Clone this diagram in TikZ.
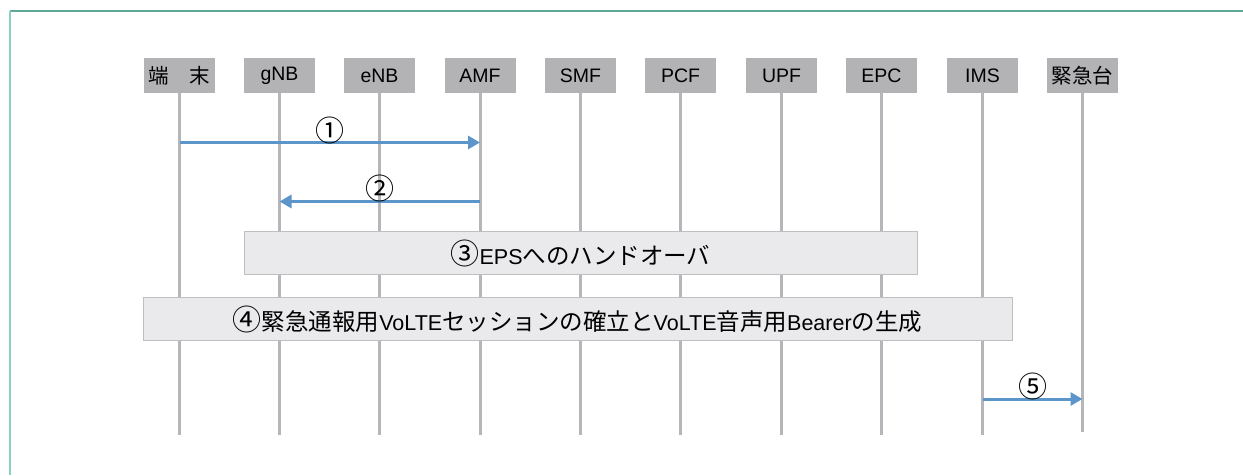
\documentclass[tikz,border=0pt]{standalone}
\usepackage{fontspec}
\setmainfont{Liberation Sans}
\newfontfamily\jp{Noto Sans CJK JP}
\usetikzlibrary{arrows.meta}
\definecolor{hdrgray}{HTML}{B3B3B6}
\definecolor{lifegray}{HTML}{B6B6BA}
\definecolor{msgblue}{HTML}{5B95C9}
\definecolor{boxfill}{HTML}{EAEAEC}
\definecolor{boxline}{HTML}{BFBFC1}
\definecolor{frametop}{HTML}{5FA898}
\definecolor{frameleft}{HTML}{8ECFC3}
\tikzset{
  hdr/.style={fill=hdrgray, minimum width=71pt, minimum height=35.5pt, inner sep=0pt,
    font=\fontsize{19.5}{19.5}\selectfont},
  life/.style={draw=lifegray, line width=3pt},
  msg/.style={draw=msgblue, line width=3pt, -{Triangle[length=12pt,width=13pt]}},
  lbl/.style={inner sep=0pt, font=\jp\fontsize{29}{29}\selectfont},
  phase/.style={fill=boxfill, draw=boxline, line width=1pt, inner sep=0pt,
    font=\fontsize{21.5}{21.5}\selectfont}
}
\newcommand{\J}[1]{{\jp\fontsize{23.5}{23.5}\selectfont #1}}
\newcommand{\C}[1]{{\jp\fontsize{29}{23.5}\selectfont #1}}
\begin{document}
\begin{tikzpicture}[x=1pt,y=-1pt]
\useasboundingbox (0,0) rectangle (1243,475);
% frame
\draw[frametop, line width=1.5pt] (9.5,11) -- (1243,11);
\draw[frameleft, line width=2pt] (9.5,11) -- (9.5,475);
% headers
\node[hdr] (h1) at (179.5,75.5) {{\jp\fontsize{20.5}{20.5}\selectfont 端　末}};
\node[hdr] (h2) at (279.5,75.5) {gNB};
\node[hdr] (h3) at (379.5,75.5) {eNB};
\node[hdr] (h4) at (480,75.5) {AMF};
\node[hdr] (h5) at (580.5,75.5) {SMF};
\node[hdr] (h6) at (680.5,75.5) {PCF};
\node[hdr] (h7) at (781.5,75.5) {UPF};
\node[hdr] (h8) at (881.5,75.5) {EPC};
\node[hdr] (h9) at (982.5,75.5) {IMS};
\node[hdr] (h10) at (1082.5,75.5) {{\jp\fontsize{20.5}{20.5}\selectfont 緊急台}};
% lifelines
\foreach \i in {1,...,9} {
  \coordinate (e\i) at (h\i |- 0,435);
  \draw[life] (h\i.south) -- (e\i);
}
\coordinate (e10) at (h10 |- 0,432);
\draw[life] (h10.south) -- (e10);
% messages
\draw[msg] (h1 |- 0,142.5) -- (h4 |- 0,142.5);
\node[lbl] (l1) at (329.5,130) {①};
\draw[msg] (h4 |- 0,201.5) -- (h2 |- 0,201.5);
\node[lbl] (l2) at (380,188) {②};
% phases
\node[phase, minimum width=673pt, minimum height=43pt] (p3) at (580.5,253.2)
  {\C{③}EPS\J{へのハンドオーバ}};
\node[phase, minimum width=869pt, minimum height=43pt] (p4) at (577.5,319.2)
  {\C{④}\J{緊急通報用}VoLTE\J{セッションの確立と}VoLTE\J{音声用}Bearer\J{の生成}};
\draw[msg] (h9 |- 0,399) -- (h10 |- 0,399);
\node[lbl] (l5) at (1032.5,386) {⑤};
\end{tikzpicture}
\end{document}
